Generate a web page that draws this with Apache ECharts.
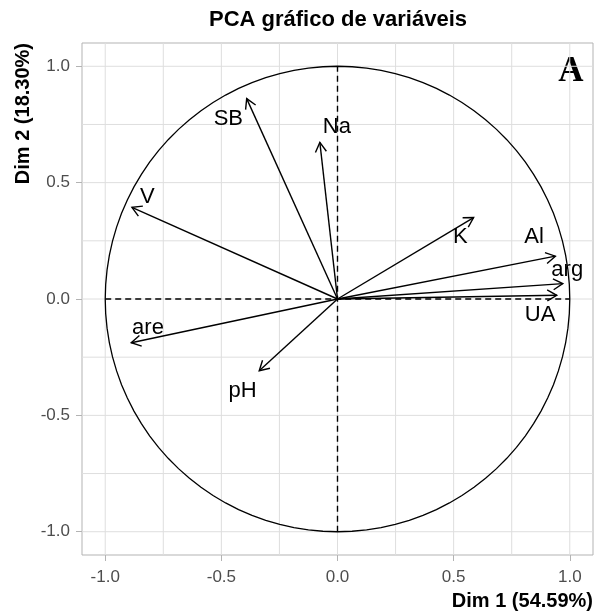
<!DOCTYPE html>
<html><head><meta charset="utf-8">
<script src="https://cdn.jsdelivr.net/npm/echarts@6/dist/echarts.min.js"></script>
<style>html,body{margin:0;padding:0;background:#fff}#c{width:595px;height:614px}</style>
</head><body><div id="c"></div>
<script>
// ---- data ----
const variables = ['SB', 'Na', 'V', 'K', 'Al', 'arg', 'UA', 'are', 'pH'];
const dim1 = [-0.391, -0.076, -0.885, 0.586, 0.938, 0.970, 0.944, -0.888, -0.337];
const dim2 = [0.861, 0.673, 0.394, 0.350, 0.184, 0.066, 0.016, -0.188, -0.308];
const labelX = [-0.470, -0.003, -0.819, 0.529, 0.846, 0.989, 0.872, -0.816, -0.409];
const labelY = [0.773, 0.738, 0.440, 0.265, 0.265, 0.126, -0.067, -0.123, -0.394];
const tickValues = [-1.0, -0.5, 0.0, 0.5, 1.0];
const tickLabels = ['-1.0', '-0.5', '0.0', '0.5', '1.0'];
const gridValues = [-1, -0.75, -0.5, -0.25, 0, 0.25, 0.5, 0.75, 1];
const titleText = 'PCA gráfico de variáveis';
const xTitle = 'Dim 1 (54.59%)';
const yTitle = 'Dim 2 (18.30%)';
const panelTag = 'A';

const FONT = '"Liberation Sans", Arial, Helvetica, sans-serif';
const chart = echarts.init(document.getElementById('c'), null, {renderer: 'canvas'});

function fmt(v) {
  const i = tickValues.findIndex(t => Math.abs(t - v) < 1e-9);
  return i >= 0 ? tickLabels[i] : '';
}

const axisCommon = {
  type: 'value', min: -1.1, max: 1.1,
  axisLine: {show: false, onZero: false},
  splitLine: {show: false},
  axisTick: {show: true, length: 6, customValues: tickValues, lineStyle: {color: '#b3b3b3', width: 1}},
  axisLabel: {customValues: tickValues, formatter: fmt, fontSize: 17, fontFamily: FONT, color: '#4d4d4d'}
};

const option = {
  animation: false,
  backgroundColor: '#fff',
  grid: {left: 82, right: 2, top: 43, bottom: 59, show: true, borderColor: '#b3b3b3', borderWidth: 1, backgroundColor: 'transparent'},
  xAxis: Object.assign({}, axisCommon, {axisLabel: Object.assign({}, axisCommon.axisLabel, {margin: 14})}),
  yAxis: Object.assign({}, axisCommon, {axisLabel: Object.assign({}, axisCommon.axisLabel, {margin: 12})}),
  graphic: [
    {type: 'text', x: 338, y: 20, style: {text: titleText, font: 'bold 22px ' + FONT, fill: '#000', align: 'center', verticalAlign: 'middle'}},
    {type: 'text', x: 593, y: 601, style: {text: xTitle, font: 'bold 20px ' + FONT, fill: '#000', align: 'right', verticalAlign: 'middle'}},
    {type: 'text', x: 23, y: 43, rotation: Math.PI / 2, style: {text: yTitle, font: 'bold 20px ' + FONT, fill: '#000', align: 'right', verticalAlign: 'middle'}},
    {type: 'text', x: 571, y: 72, style: {text: panelTag, font: 'bold 35px "Liberation Serif", "Times New Roman", serif', fill: '#000', align: 'center', verticalAlign: 'middle'}}
  ],
  series: [
    {
      type: 'custom', name: 'grid', silent: true, z: 0,
      data: gridValues.map(v => [v]),
      renderItem: function (params, api) {
        const v = api.value(0);
        const cs = params.coordSys;
        const px = api.coord([v, 0])[0];
        const py = api.coord([0, v])[1];
        return {type: 'group', children: [
          {type: 'line', shape: {x1: px, y1: cs.y, x2: px, y2: cs.y + cs.height}, style: {stroke: '#dedede', lineWidth: 1}},
          {type: 'line', shape: {x1: cs.x, y1: py, x2: cs.x + cs.width, y2: py}, style: {stroke: '#dedede', lineWidth: 1}}
        ]};
      }
    },
    {
      type: 'custom', name: 'circle', silent: true, z: 2,
      data: [[0, 0, 1]],
      renderItem: function (params, api) {
        const r = api.value(2);
        const pts = [];
        const n = 100;
        for (let k = 0; k <= n; k++) {
          const t = 2 * Math.PI * k / n;
          pts.push(api.coord([api.value(0) + r * Math.cos(t), api.value(1) + r * Math.sin(t)]));
        }
        const h0 = api.coord([-r, 0]), h1 = api.coord([r, 0]);
        const v0 = api.coord([0, -r]), v1 = api.coord([0, r]);
        return {type: 'group', children: [
          {type: 'polyline', shape: {points: pts}, style: {stroke: '#000', lineWidth: 1.3, fill: null}},
          {type: 'line', shape: {x1: h0[0], y1: h0[1], x2: h1[0], y2: h1[1]}, style: {stroke: '#000', lineWidth: 1.4, lineDash: [6, 4]}},
          {type: 'line', shape: {x1: v0[0], y1: v0[1], x2: v1[0], y2: v1[1]}, style: {stroke: '#000', lineWidth: 1.4, lineDash: [6, 4]}}
        ]};
      }
    },
    {
      type: 'custom', name: 'arrows', silent: true, z: 3,
      data: dim1.map((x, i) => [x, dim2[i]]),
      renderItem: function (params, api) {
        const p0 = api.coord([0, 0]);
        const p1 = api.coord([api.value(0), api.value(1)]);
        const ang = Math.atan2(p1[1] - p0[1], p1[0] - p0[0]);
        const L = 11, a = Math.PI / 6;
        const h1 = [p1[0] - L * Math.cos(ang - a), p1[1] - L * Math.sin(ang - a)];
        const h2 = [p1[0] - L * Math.cos(ang + a), p1[1] - L * Math.sin(ang + a)];
        return {type: 'group', children: [
          {type: 'line', shape: {x1: p0[0], y1: p0[1], x2: p1[0], y2: p1[1]}, style: {stroke: '#000', lineWidth: 1.4}},
          {type: 'polyline', shape: {points: [h1, p1, h2]}, style: {stroke: '#000', lineWidth: 1.4, fill: null}}
        ]};
      }
    },
    {
      type: 'custom', name: 'labels', silent: true, z: 4,
      data: labelX.map((x, i) => [x, labelY[i], i]),
      renderItem: function (params, api) {
        const p = api.coord([api.value(0), api.value(1)]);
        return {type: 'text', x: p[0], y: p[1], style: {text: variables[api.value(2)], fontSize: 22, fontFamily: FONT, fill: '#000', align: 'center', verticalAlign: 'middle'}};
      }
    }
  ]
};
chart.setOption(option);
</script>
</body></html>
